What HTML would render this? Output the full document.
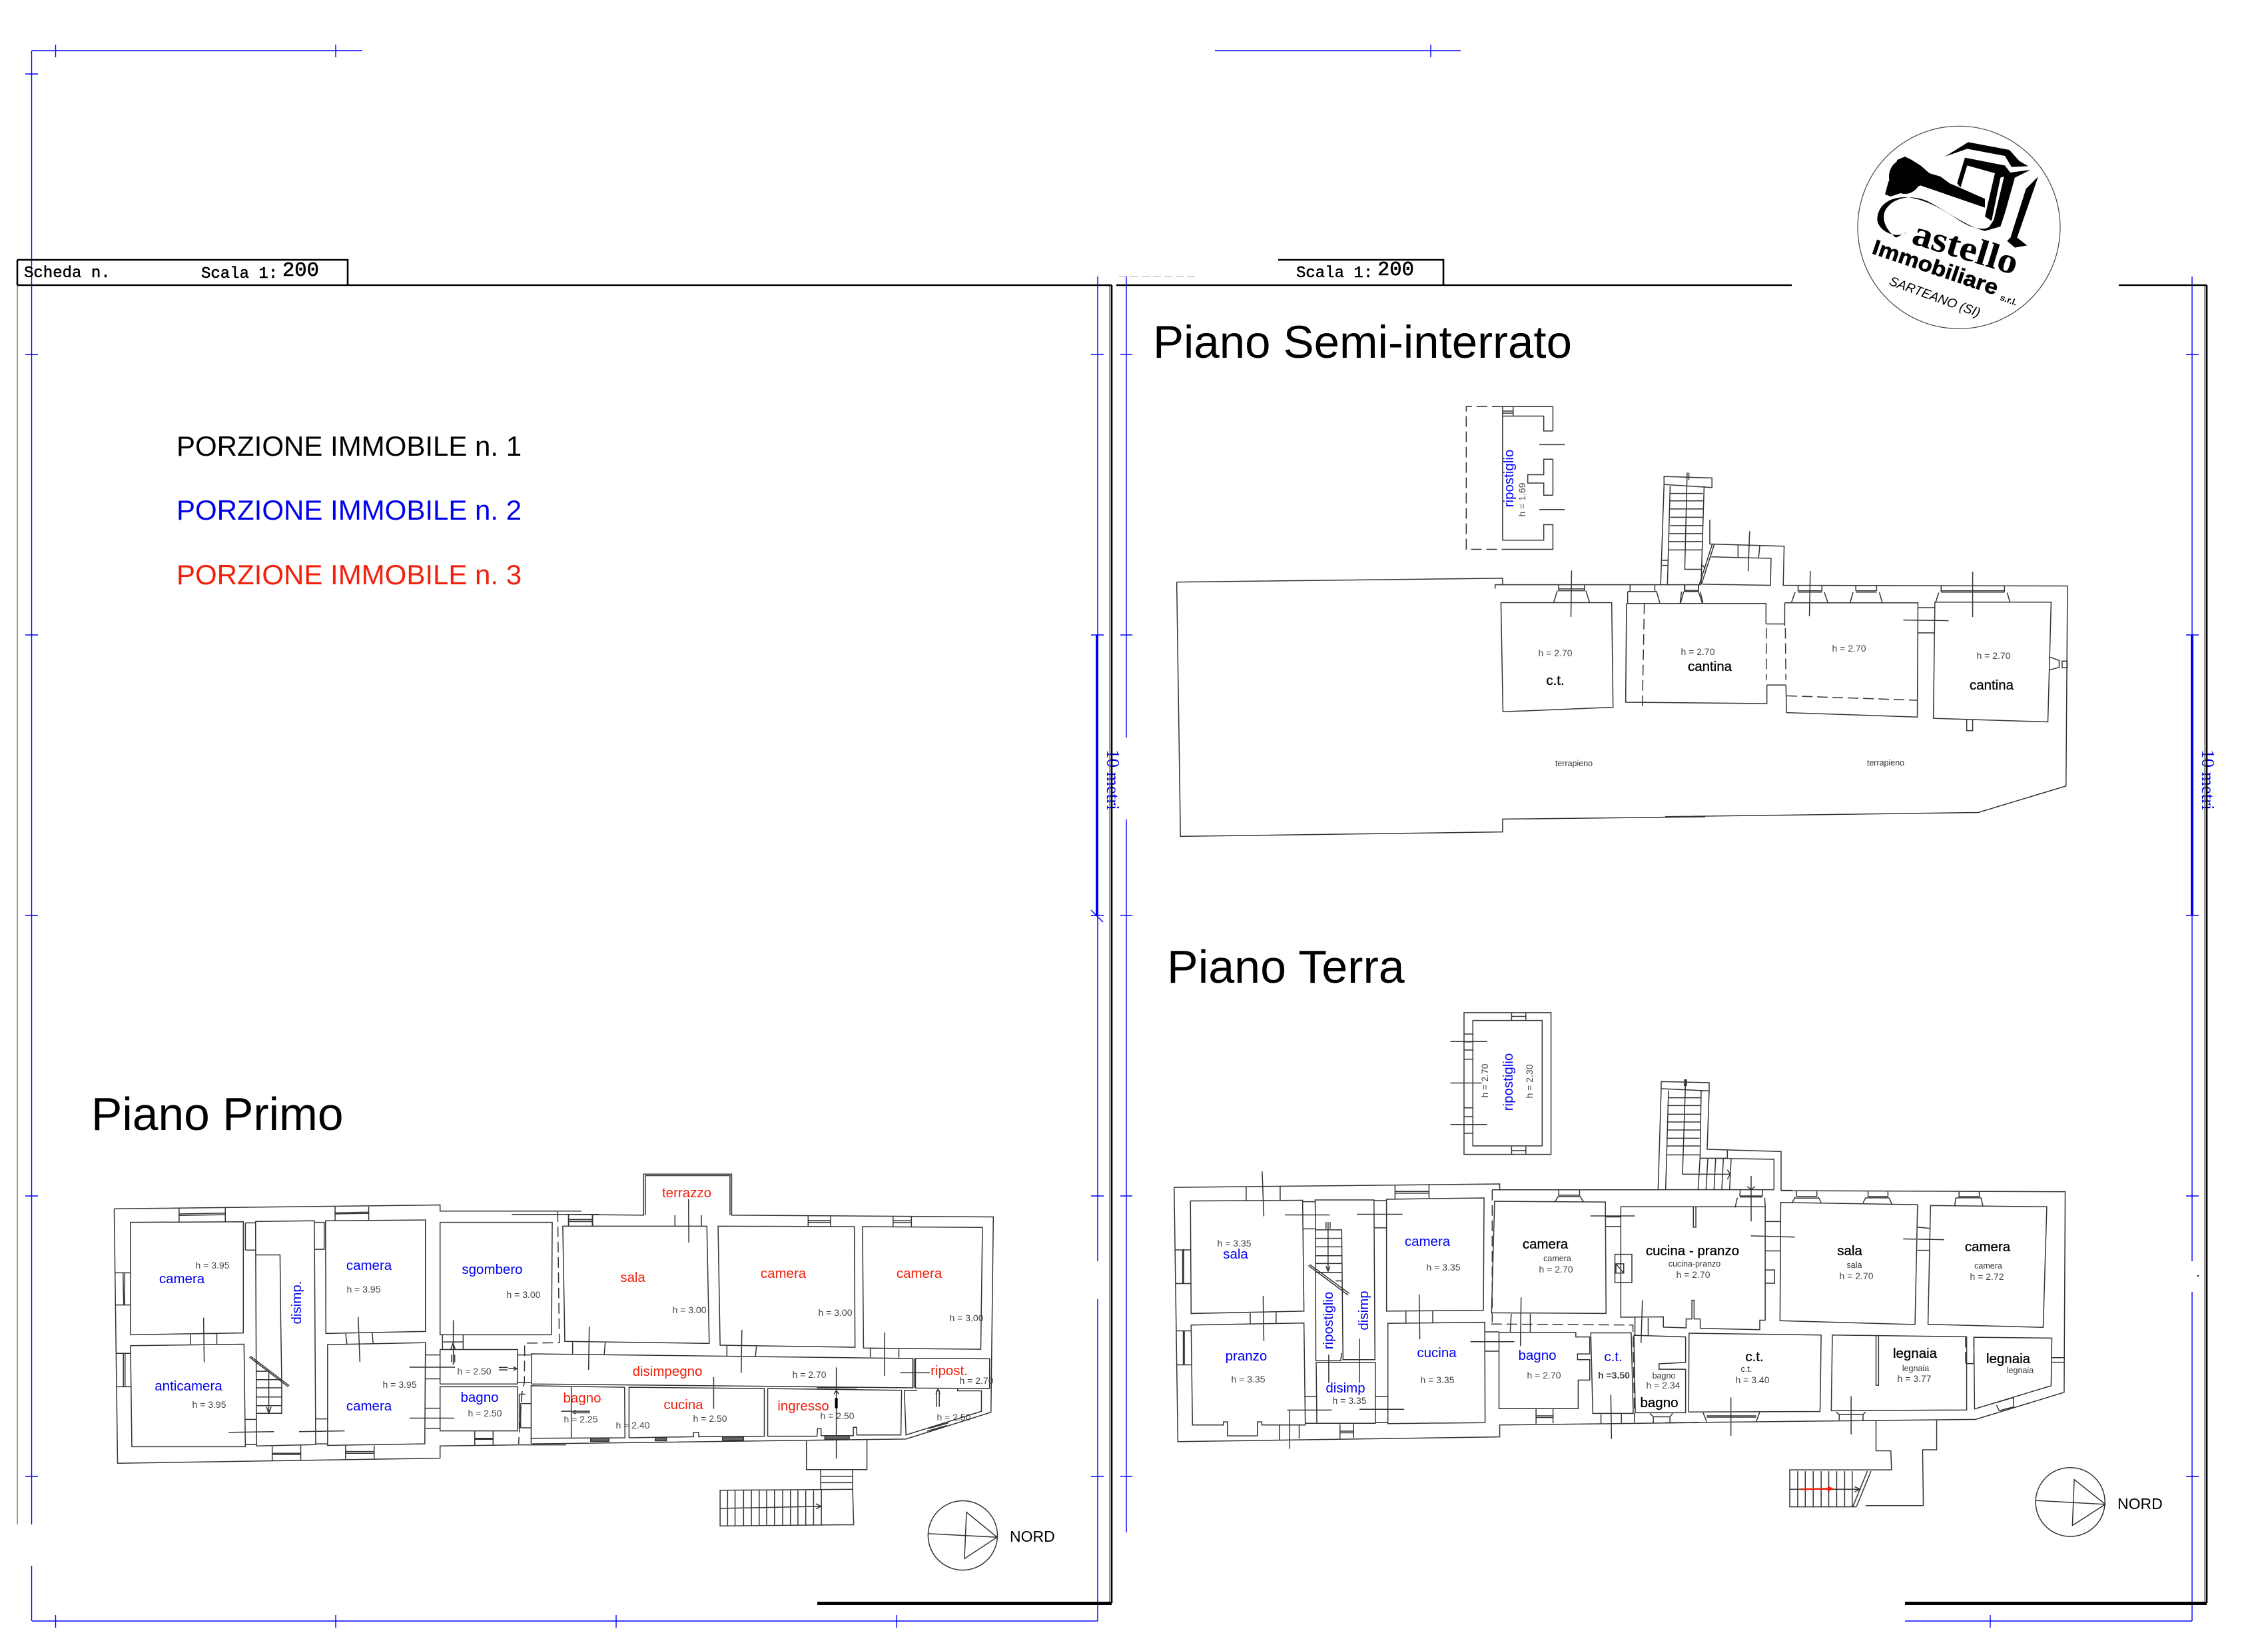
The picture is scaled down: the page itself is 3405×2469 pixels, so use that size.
<!DOCTYPE html>
<html lang="it"><head><meta charset="utf-8"><title>Piante</title>
<style>
html,body{margin:0;padding:0;background:#fff}
svg{display:block;font-family:"Liberation Sans",sans-serif}
path,ellipse,circle,rect.l{vector-effect:non-scaling-stroke;fill:none;stroke:#333;stroke-width:1.5}
.d{stroke-dasharray:16 7}
.t{stroke:#111;stroke-width:1}
.g{stroke:#777;stroke-width:1.5}
.bl{stroke:#0000ff;stroke-width:1.4}
.k{stroke:#000;stroke-width:2.6}
.bk{fill:#000;stroke:none}
.gf{fill:#666;stroke:#333}
text{text-anchor:middle}
.h{font-size:14px;fill:#444}
.s{font-size:12.5px;fill:#333}
.b{font-size:20.5px;fill:#0000f0}
.r{font-size:20.5px;fill:#f2200c}
.n{font-size:20.5px;fill:#000;stroke:#000;stroke-width:.3}
.m{font-family:"Liberation Mono",monospace;fill:#000;text-anchor:start}
.ti{font-size:69px;fill:#000;text-anchor:start}
.po{font-size:42px;text-anchor:start}
</style></head><body>
<svg xmlns="http://www.w3.org/2000/svg" width="3405" height="2469" viewBox="0 0 3405 2469">
<rect width="3405" height="2469" fill="#fff"/>

<!-- blue guides -->
<path class="bl" d="M47.5,76H544M83.5,67V86M504,67V86M47.5,76V2288M47.5,2350V2433M38,111H57M38,532H57M38,953H57M38,1374H57M38,1795H57M38,2216H57
M1824,76H2193M2148,67V86
M1648,415V1893M1648,1950V2433M48,2433H1648M83.5,2424V2443M504,2424V2443M925,2424V2443M1346,2424V2443
M1638,532H1657M1638,953H1657M1638,1374H1657M1638,1795H1657M1638,2216H1657M1638,1366L1656,1384
M1691,415V1107M1691,1230V2300M1682,532H1700M1682,953H1700M1682,1374H1700M1682,1795H1700M1682,2216H1700
M3291,415V1893M3291,1939V2433M2860,2433H3291M2988,2424V2443M3282,532H3301M3282,953H3301M3282,1374H3301M3282,1795H3301M3282,2216H3301"/>
<rect x="1645" y="953" width="4" height="421" fill="#0000ff"/>
<rect x="3289" y="953" width="4" height="421" fill="#0000ff"/>
<text transform="translate(1662,1125) rotate(90)" style="font-family:'Liberation Serif',serif;font-size:27px;fill:#0000f0;text-anchor:start">10 metri</text>
<text transform="translate(3306,1125) rotate(90)" style="font-family:'Liberation Serif',serif;font-size:27px;fill:#0000f0;text-anchor:start">10 metri</text>

<!-- frames -->
<path class="g" d="M26,428V2288M1666,428V2406M3310,428V2406"/>
<path class="k" d="M26,428H1669M1669,428V2406M1676,428H2690M3181,428H3313M3313,428V2406M26,390H522V428M26,390V428M1919,390H2167V428"/>
<rect x="1227" y="2404" width="442" height="5" fill="#000"/>
<rect x="2860" y="2404" width="453" height="5" fill="#000"/>
<path d="M1680,415H1795" style="stroke:#aaa;stroke-width:1;stroke-dasharray:12 5"/>
<rect x="3299" y="1914" width="2" height="2" fill="#000"/>
<text class="m" x="36" y="416" style="font-size:24px;stroke:#000;stroke-width:.5">Scheda n.</text>
<text class="m" x="302" y="417" style="font-size:24px;stroke:#000;stroke-width:.5">Scala 1:</text>
<text class="m" x="424" y="414" style="font-size:30.5px;stroke:#000;stroke-width:.6">200</text>
<text class="m" x="1946" y="416" style="font-size:24px;stroke:#000;stroke-width:.5">Scala 1:</text>
<text class="m" x="2068" y="413" style="font-size:30.5px;stroke:#000;stroke-width:.6">200</text>

<!-- titles -->
<text class="ti" x="1731" y="537">Piano Semi-interrato</text>
<text class="ti" x="1752" y="1475" style="font-size:70px">Piano Terra</text>
<text class="ti" x="137" y="1696" style="font-size:69.5px">Piano Primo</text>
<text class="po" x="265" y="684" fill="#000">PORZIONE IMMOBILE n. 1</text>
<text class="po" x="265" y="780" fill="#0000f0">PORZIONE IMMOBILE n. 2</text>
<text class="po" x="265" y="877" fill="#f2200c">PORZIONE IMMOBILE n. 3</text>

<!-- logo -->
<g transform="translate(2780,160) scale(.33333)">
<circle cx="483" cy="544" r="456" style="stroke:#444;stroke-width:1.2"/>
<path class="bk" d="M420,225L525,160L710,195L755,245L795,268L720,272L690,222L520,190Z"/>
<path class="bk" d="M510,230L690,265L720,305L670,320L630,515L600,495L645,300L520,265L490,365L475,345Z"/>
<path class="bk" d="M150,395L165,340L185,300L205,240L240,225L270,240L310,265L350,300L400,315L440,345L475,360L600,415L600,455L310,355L250,380L175,405Z"/>
<ellipse class="bk" cx="240" cy="315" rx="72" ry="78"/>
<path class="bk" d="M600,560C520,540 440,480 350,430C270,390 180,410 150,470C130,520 170,570 200,590L250,565C200,600 120,560 115,510C115,440 180,400 260,410C340,420 420,470 480,510C540,550 600,560 620,540L640,510L690,300L805,285L735,320L690,480L670,540Z"/>
<path class="bk" d="M840,315L785,370L715,590L700,605L735,635L790,625L745,590Z"/>
</g>
<text transform="translate(2868,365) rotate(17)" style="font-family:'Liberation Serif',serif;font-weight:bold;font-size:54px;text-anchor:start" textLength="163" lengthAdjust="spacingAndGlyphs">astello</text>
<text transform="translate(2809,380) rotate(18.7)" style="font-weight:bold;font-size:32px;text-anchor:start;stroke:#000;stroke-width:.6" textLength="197" lengthAdjust="spacingAndGlyphs">Immobiliare</text>
<text transform="translate(3002,450) rotate(20)" style="font-weight:bold;font-size:13px;text-anchor:start">s.r.l.</text>
<text transform="translate(2835,427) rotate(20)" style="font-style:italic;font-size:19.5px;text-anchor:start">SARTEANO (SI)</text>

<!-- PIANO PRIMO left -->
<g transform="translate(100,1750) scale(.5102,.3827)">
<path d="M140,168L1099,153V177H1515M1310,190H1568M140,168L150,1166L1099,1146V1098L1330,1094H1470
M188,221L520,219V655L188,662ZM188,705L522,699L526,1101H192ZM556,218L729,215L733,1093L559,1098Z
M762,215L1056,212V649L763,657ZM768,701L1056,693L1054,1090L768,1096ZM1099,221H1429L1427,662H1099Z
M1099,720H1327V855H1099ZM1099,866H1327V1039H1099Z
M331,165V220M467,163V218M331,188L467,185M331,194L467,191M790,160V213M889,157V212M790,184L889,181M790,188L889,186
M1477,190V235M1548,190V235M1477,210H1548M1477,218H1548
M143,419H188M143,545H188M166,419L168,545M171,419V545M146,735H188M148,866H188M167,735V866M172,735V866
M365,659V700M442,655V698M403,595L405,770M821,655L825,700M899,652L902,697M858,592L863,768
M1106,660V718M1167,660V718M1106,690H1167M1138,605V780M1133,740V770M1142,740V770M1130,720L1137,695L1144,720
M526,223H556M526,330H556M526,223V330M729,221H758V327H729
M556,349H628L630,600L633,840V970H560M558,805H590M558,838H632M560,870H634M558,906H634M560,940H634M595,800V970M588,945L595,970L602,945
M538,750L652,866M541,746L655,862
M524,994H559M526,1093H559M733,992H768M733,1090H768M477,1045L610,1042M684,1042L818,1039
M605,1100V1156M689,1096V1153M605,1127H689M605,1132H689M821,1096V1152M905,1092V1150M821,1120H905M821,1127H905
M1056,741H1099M1056,835H1099M1056,950H1099M1056,1029H1099M1009,789H1143M1009,989H1141
M1201,1040V1096M1255,1040V1096M1201,1068H1255M1201,1072H1255
M1336,932H1366M1336,1027H1366M1336,932V1027M1327,741H1368M1327,850H1368M1332,895H1350M1332,895V1030
M1272,790H1298M1272,800H1298M1300,795H1325M1315,788L1325,795L1315,802"/>
<path class="d" d="M1445,177L1450,693L1348,695L1347,850L1340,890L1330,1090"/>
</g>

<!-- PIANO PRIMO right -->
<g transform="translate(850,1750) scale(.5102,.3827)">
<path d="M0,190L228,193V32H487V193L1257,200L1250,966L1000,1071L-100,1090M233,38H482V193M233,38V193
M-10,236H414L421,696L-4,688ZM-102,737L1020,755V870L-102,855ZM1024,755V870
M447,236L848,238L850,711L453,703ZM872,238L1225,241L1220,719L875,714ZM1028,755L1246,756V873L1028,871Z
M-103,862L172,868L173,1066L-103,1068ZM15,866V1068M185,868L583,873V1060L390,1062V1045H375V1062L185,1066Z
M593,873L987,880L985,1055H855V1025H845V1058H750V1030H740L738,1060H593Z
M995,880H1033M1152,875V882H1222V962L1000,1055L995,880
M320,193V236M398,193V236M360,130L361,300M712,195V237M778,195V237M712,214H778M712,221H778
M962,197V238M1016,197V240M962,215H1016M962,222H1016M7,192V235M77,192V235M7,210H77M7,218H77
M19,690V738M115,692L112,738M68,630L66,800M473,703V745M560,706L557,747M517,643L515,812
M895,714V750M979,716V752M937,653V823M795,790V1148M983,811H1070M434,828V952M1090,880V945M1098,880V945M1088,895L1094,875L1100,895M788,895L795,880L802,895
M405,863H465M738,870H855M1062,1040L1120,1018M1066,1030L1124,1008
M-103,1068V1090M-15,962H18M20,962H70M20,968H70M18,965L28,958M18,965L28,972
M707,1075V1191H885V1073M749,1191V1270M843,1190V1270M749,1217H843M749,1242H843
M453,1272L843,1268L846,1407L453,1412ZM475,1272V1412M497,1272V1412M522,1272V1412M545,1270V1410M568,1270V1410M590,1270V1410M613,1270V1410M637,1270V1410M660,1270V1410M682,1270V1410M705,1270V1410M728,1270V1410M751,1270V1410
M453,1343L750,1335M735,1325L750,1335L735,1345"/>
<path class="gf" d="M72,1067H126V1080H72ZM262,1065H295V1078H262ZM460,1063H522V1076H460ZM761,1058H833V1072H761Z"/>
<path class="bk" d="M791,910H799V950H791Z"/>
<ellipse cx="1167" cy="1449" rx="102" ry="136"/>
<path d="M1178,1358L1268,1456L1172,1540ZM1065,1442L1268,1456"/>
</g>

<!-- PIANO SEMI-INTERRATO -->
<g transform="translate(1760,600) scale(.5102,.4464)">
<path d="M1120,23H972V472H1093V420H1120V503H972M1120,23M972,55H1093V105H1120M1120,23V105M1120,200H1093V252H1046V280H1093V321H1120M1120,200V321M1003,23V55M972,38H1003M972,45H1003M1080,151H1155M1080,369H1155
M13,613L972,600V622M950,635V622H1437M13,613L24,1468L972,1453V1410L1568,1402
M967,682H1293L1297,1034L973,1049ZM1137,622V642H1213V622M1137,636H1213M1122,682L1133,642M1217,642L1228,682M1175,574L1173,730
M1347,622V645M1420,622V645M1340,645H1425L1435,685M1340,645V685M1507,622V645H1548V622M1505,645L1495,685M1548,645L1560,685
M1447,258L1588,263V295L1447,285ZM1447,285L1437,622M1465,290L1457,622M1565,290L1556,622M1465,315H1562M1465,340H1562M1465,367H1562M1465,395H1562M1465,423H1562M1463,450H1562M1460,477H1562M1460,505H1560M1515,245L1508,570H1558M1520,245V270M1441,540H1460M1441,557H1460M1437,622H1556"/>
<path class="d" d="M972,23H865V503H972M1389,685L1383,1040"/>
</g>
<g transform="translate(2500,780) scale(.4464,.3317)">
<path d="M150,0V110L400,120L397,297L1353,300L1348,1205L1053,1325L0,1344M165,112L122,292M158,112L115,292M155,168L356,175L354,297L125,292M245,115V170M318,118L314,175M284,52L279,233M125,205L135,222
M66,293V322M112,293V322M66,320H112M66,325H112M55,325L50,380M118,325L127,380
M-130,379H339V472M342,748V832L-133,826L-130,379M340,472H402M342,748H406
M402,376H850L848,893L408,873L406,748M402,376V480
M447,297V325M527,297V325M447,322H527M447,328H527M437,328L425,373M535,328L547,375M488,232L485,437
M641,297V322M711,297V322M641,322H711M641,328H711M632,328L622,375M720,328L730,375
M907,373H1298L1287,915L902,899ZM850,398H906M850,512H906M801,454L953,457M928,300V327M1141,300V327M928,322H1141M928,328H1141M920,330L910,372M1150,330L1160,375M1034,235V440
M1295,622L1325,637V668L1293,680M1335,640H1352V670H1335ZM1014,903V955H1034V903"/>
<path class="d" d="M340,490V725M404,490L406,725M408,797L848,817"/>
</g>

<!-- PIANO TERRA -->
<g transform="translate(1750,1500) scale(.5102)">
<path d="M878,39H1134V456H878ZM904,62H1108V431H904ZM1018,41V62M1060,41V62M1018,50H1060M1018,433V456M1060,433V456M1018,445H1060
M878,102H904M878,125H904M878,149H904M878,176H904M878,319H904M878,345H904M878,394H904M838,124H946M838,246H930M838,368H946
M25,553L983,543V559M961,560H1450M25,553L36,1301L983,1287V1252L1568,1245
M73,593L403,591L407,917L75,924ZM75,958L407,952L411,1252H283V1243H270V1284H182V1243H170V1252H79Z
M440,590H613L616,1060H522L518,678H441ZM441,678L442,1063H515L518,1040M443,1068H617V1247H445Z
M650,588L937,584L935,915L650,917ZM654,953L939,950L940,1245L654,1248ZM968,594L1294,596L1296,924L959,922Z
M981,980H1207V993H1248V1043H1212V1060H1248V1120H1214V1204H981ZM1251,981H1370L1376,1218H1257Z
M1378,988L1530,993V1068L1452,1072V1088H1530V1216H1382Z
M1322,750H1372V833H1322ZM1325,778H1348V805H1325ZM1325,778L1348,805
M237,550V591M337,548V591M284,506L289,638M675,545V586M775,543V584M675,565H775M675,570H775
M1157,560V578M1218,560V578M1157,576H1218M1145,596L1155,580H1220L1230,596
M28,737H75M28,836H75M50,737V836M53,734V836M30,975H75M33,1075H75M52,975V1075M55,975V1075
M249,923V955M325,920V952M287,872L289,1005M403,595H440M403,675H440M351,634H483M613,592H650M613,672H650M563,632H697
M707,917V953M786,915V950M746,868L748,1000M1294,640H1340M1294,668H1340M1250,637H1381
M1017,925L1014,978M1073,925V978M1046,877L1044,1020
M407,1168H443M411,1247H445M358,1208H489M616,1168H654M618,1245H654M570,1206H702M365,1208V1322
M335,1252V1295M393,1250V1292M513,1250V1293M553,1248V1290M513,1270H553M513,1275H553
M940,978H981M940,1035H981M897,1007H1026M1090,1204V1248M1140,1204V1247M1090,1225H1140M1090,1230H1140
M1281,1220V1247M1341,1218V1247M1310,1163L1312,1293M1403,885L1399,1011M1381,935V988M1420,937V988
M1435,1228V1247M1484,1228V1247M1425,1218L1435,1228H1484L1492,1218
M480,1045V1128M570,998V1128
M441,703H518M441,728H518M441,754H518M441,777H518M441,803H518M500,828H518M478,655V800M472,785L478,800L484,785M472,655V675M478,655V675M484,655V675
M420,783L537,870M424,780L540,865"/>
<path class="d" d="M961,560V950M958,955L1375,958L1380,1245"/>
</g>
<g transform="translate(2470,1620) scale(.33333)">
<path d="M72,10L288,15V52L72,42ZM72,42L58,497M105,50L92,497M252,50L247,355M288,52L279,315L612,325V500M279,355L580,360V497M247,355H370V320M58,497H580M612,500H660
M105,83H250M100,118H250M100,157H248M98,192H248M98,228H248M96,265H245M96,300H245M95,340H245M182,0L168,427H383M370,407L383,427L370,450M176,0V30M186,0V30
M247,355L238,497M282,358L274,497M317,358L310,497M352,358L345,497M387,358L380,497
M428,497L426,525M528,497V525M426,525H528M426,530H528M415,533L405,577M538,533L541,577M477,435V640M460,482L477,497L494,482"/>
</g>
<g transform="translate(2500,1750) scale(.542,.3827)">
<path d="M-123,160H277V605H262V642L97,637V600H80V527H74V600H58V635L-5,632V592L-123,593Z
M78,160V240H85V160M277,408H303V460H277
M320,143L699,152L692,622L318,607ZM735,155L1057,160L1047,633L728,621Z
M66,656L432,663L429,963L65,965ZM463,663L835,670V957L460,960ZM584,667V860H591V667M855,672L1071,675L1069,862L857,953Z
M320,97L1108,101L1105,888L860,994L0,1007M832,775H855
M364,97V120M420,97V120M364,120H420M360,122L352,143M424,122L432,143M360,126H424
M562,97V120M617,97V120M562,120H617M555,125L548,145M620,125L628,150M555,125H620
M814,100V122M870,100V122M814,120H870M805,125L802,155M875,125L880,157M805,125H875
M277,218H320M277,333H320M237,274L359,279M699,240L735,245M697,331H733M659,286L773,289
M105,968L115,1003M262,965L252,1003M115,980H252M115,985H252M482,975V997M548,975V997M473,965L482,975H548L555,965M182,908V1058M515,903V1053
M1069,752H1105M1069,770H1105M912,930L965,908M925,960L965,945M918,938L925,960M965,908V945
M584,1000V1117H625L627,1192H345V1337H530M555,1332H715L713,1113H752V997
M367,1197V1335M388,1197V1335M410,1197V1335M432,1197V1335M453,1197V1335M475,1197V1335M497,1197V1335M518,1197V1335M345,1268H540M525,1258L540,1268L525,1278M570,1197L530,1335M560,1197L520,1335"/>
<path class="d" d="M832,670V775M855,675V775"/>
<path d="M375,1268L455,1266" style="stroke:#f2200c;stroke-width:2.5"/>
<path d="M450,1255L468,1266L450,1277Z" style="fill:#f2200c;stroke:none"/>
<ellipse cx="1122" cy="1318" rx="96" ry="135"/>
<path d="M1133,1230L1219,1327L1128,1410ZM1027,1312L1219,1327"/>
</g>

<!-- labels: Piano Primo -->
<text class="h" x="319" y="1904">h = 3.95</text>
<text class="b" x="273" y="1926">camera</text>
<text class="b" x="283" y="2087">anticamera</text>
<text class="h" x="314" y="2113">h = 3.95</text>
<text class="b" transform="translate(452,1955) rotate(-90)">disimp.</text>
<text class="b" x="554" y="1906">camera</text>
<text class="h" x="546" y="1940">h = 3.95</text>
<text class="b" x="554" y="2117">camera</text>
<text class="h" x="600" y="2083">h = 3.95</text>
<text class="b" x="739" y="1912">sgombero</text>
<text class="h" x="786" y="1948">h = 3.00</text>
<text class="h" x="712" y="2063">h = 2.50</text>
<text class="b" x="720" y="2104">bagno</text>
<text class="h" x="728" y="2126">h = 2.50</text>
<text class="r" x="874" y="2105">bagno</text>
<text class="h" x="872" y="2135">h = 2.25</text>
<text class="h" x="950" y="2144">h = 2.40</text>
<text class="r" x="1031" y="1797">terrazzo</text>
<text class="r" x="950" y="1924">sala</text>
<text class="h" x="1035" y="1971">h = 3.00</text>
<text class="r" x="1176" y="1918">camera</text>
<text class="h" x="1254" y="1975">h = 3.00</text>
<text class="r" x="1380" y="1918">camera</text>
<text class="h" x="1451" y="1983">h = 3.00</text>
<text class="r" x="1002" y="2065">disimpegno</text>
<text class="h" x="1215" y="2068">h = 2.70</text>
<text class="r" x="1425" y="2064">ripost.</text>
<text class="h" x="1466" y="2077">h = 2.70</text>
<text class="r" x="1026" y="2115">cucina</text>
<text class="h" x="1066" y="2134">h = 2.50</text>
<text class="r" x="1206" y="2117">ingresso</text>
<text class="h" x="1257" y="2130">h = 2.50</text>
<text class="h" x="1432" y="2132">h = 2.50</text>
<text x="1516" y="2314" style="font-size:23px;text-anchor:start">NORD</text>

<!-- labels: Piano Terra -->
<text class="h" transform="translate(2234,1622) rotate(-90)">h = 2.70</text>
<text class="b" transform="translate(2271,1624) rotate(-90)">ripostiglio</text>
<text class="h" transform="translate(2301,1623) rotate(-90)">h = 2.30</text>
<text class="h" x="1853" y="1871">h = 3.35</text>
<text class="b" x="1855" y="1889">sala</text>
<text class="b" x="2143" y="1870">camera</text>
<text class="h" x="2167" y="1907">h = 3.35</text>
<text class="b" x="1871" y="2042">pranzo</text>
<text class="h" x="1874" y="2075">h = 3.35</text>
<text class="b" transform="translate(2001,1982) rotate(-90)">ripostiglio</text>
<text class="b" transform="translate(2054,1967) rotate(-90)">disimp</text>
<text class="b" x="2157" y="2037">cucina</text>
<text class="h" x="2158" y="2076">h = 3.35</text>
<text class="b" x="2020" y="2090">disimp</text>
<text class="h" x="2026" y="2107">h = 3.35</text>
<text class="n" x="2320" y="1874">camera</text>
<text class="s" x="2338" y="1893">camera</text>
<text class="h" x="2336" y="1910">h = 2.70</text>
<text class="b" x="2308" y="2041">bagno</text>
<text class="h" x="2318" y="2069">h = 2.70</text>
<text class="b" x="2422" y="2043">c.t.</text>
<text class="h" x="2423" y="2069" style="font-weight:bold">h =3.50</text>
<text class="s" x="2498" y="2069">bagno</text>
<text class="h" x="2497" y="2084">h = 2.34</text>
<text class="n" x="2491" y="2112">bagno</text>
<text class="n" x="2541" y="1884">cucina - pranzo</text>
<text class="s" x="2544" y="1901">cucina-pranzo</text>
<text class="h" x="2542" y="1918">h = 2.70</text>
<text class="n" x="2777" y="1884">sala</text>
<text class="s" x="2784" y="1903">sala</text>
<text class="h" x="2787" y="1920">h = 2.70</text>
<text class="n" x="2984" y="1878">camera</text>
<text class="s" x="2985" y="1904">camera</text>
<text class="h" x="2983" y="1921">h = 2.72</text>
<text class="n" x="2634" y="2043">c.t.</text>
<text class="s" x="2622" y="2059">c.t.</text>
<text class="h" x="2631" y="2076">h = 3.40</text>
<text class="n" x="2875" y="2038">legnaia</text>
<text class="s" x="2876" y="2058">legnaia</text>
<text class="h" x="2874" y="2074">h = 3.77</text>
<text class="n" x="3015" y="2046">legnaia</text>
<text class="s" x="3033" y="2061">legnaia</text>
<text x="3179" y="2265" style="font-size:23px;text-anchor:start">NORD</text>

<!-- labels: Semi-interrato -->
<text class="b" transform="translate(2272,718) rotate(-90)">ripostiglio</text>
<text class="h" transform="translate(2290,750) rotate(-90)">h = 1.69</text>
<text class="h" x="2335" y="985">h = 2.70</text>
<text class="n" x="2335" y="1028">c.t.</text>
<text class="h" x="2549" y="983">h = 2.70</text>
<text class="n" x="2567" y="1007">cantina</text>
<text class="h" x="2776" y="978">h = 2.70</text>
<text class="h" x="2993" y="989">h = 2.70</text>
<text class="n" x="2990" y="1035">cantina</text>
<text class="s" x="2363" y="1150">terrapieno</text>
<text class="s" x="2831" y="1149">terrapieno</text>
</svg>
</body></html>
